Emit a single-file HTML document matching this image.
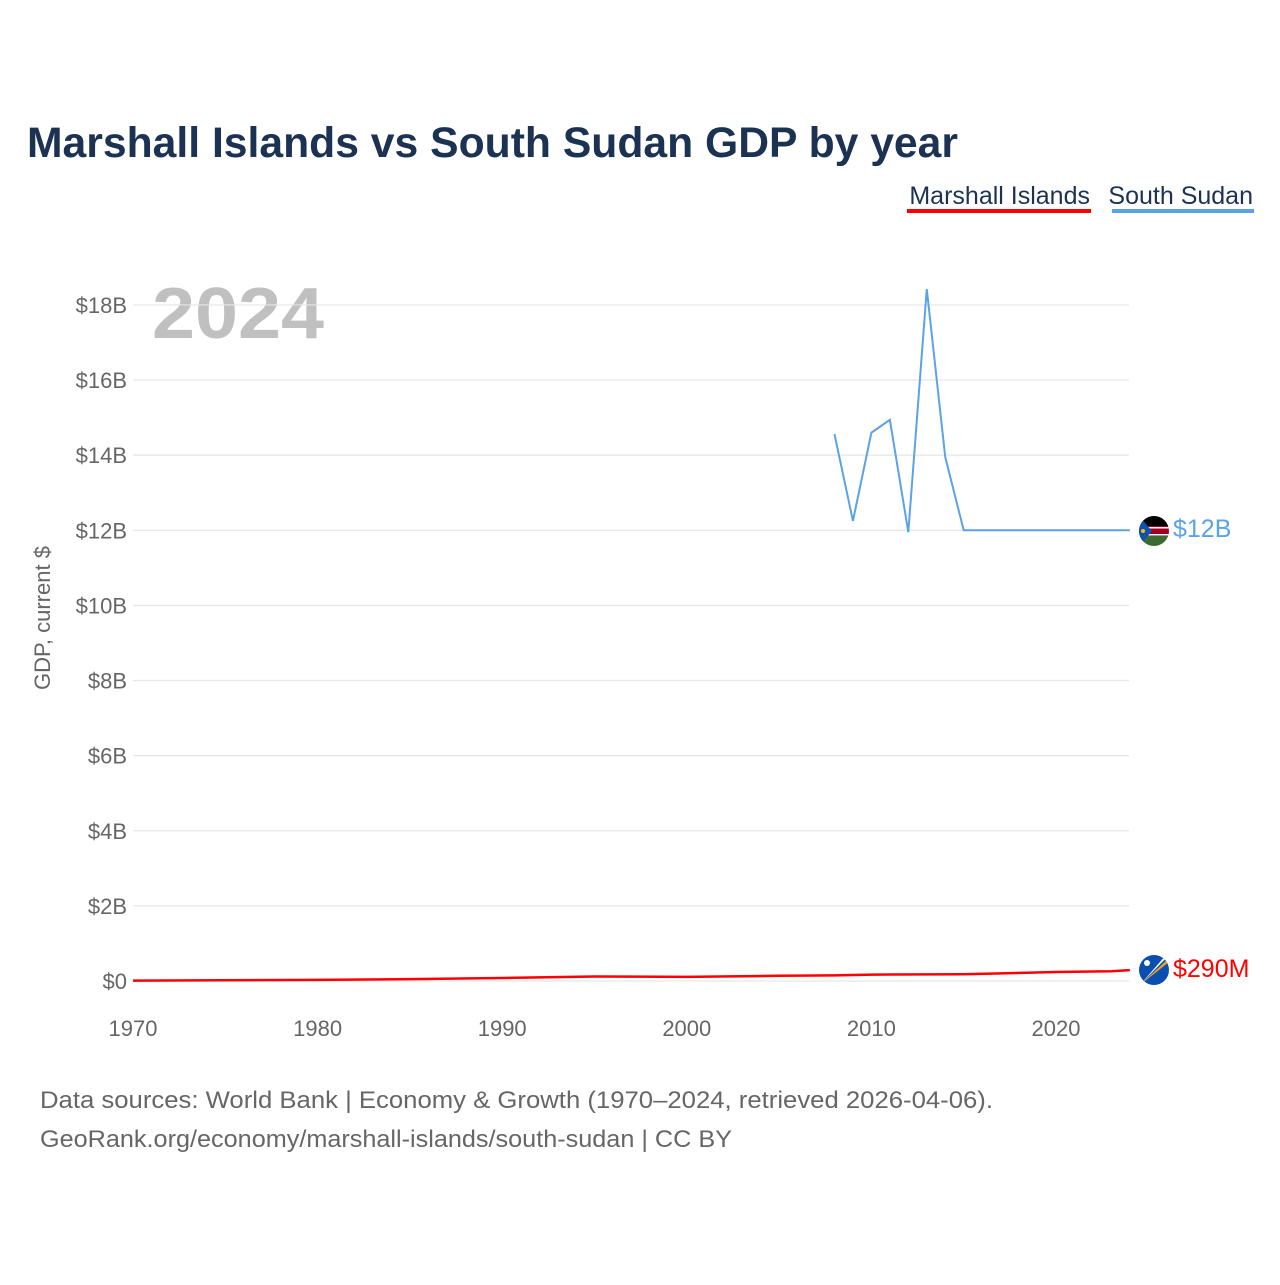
<!DOCTYPE html>
<html><head><meta charset="utf-8"><style>
body{margin:0;background:#fff;width:1280px;height:1280px;overflow:hidden;font-family:"Liberation Sans",sans-serif}
</style></head><body>
<svg width="1280" height="1280" style="font-family:'Liberation Sans',sans-serif">
<text x="27" y="157" font-size="43" font-weight="bold" fill="#1b3252" textLength="931" lengthAdjust="spacingAndGlyphs">Marshall Islands vs South Sudan GDP by year</text>
<g>
<text x="1090" y="204" text-anchor="end" font-size="25" fill="#1b3252">Marshall Islands</text>
<rect x="907" y="209" width="184" height="4" fill="#ff0000"/></g>
<g>
<text x="1253" y="204" text-anchor="end" font-size="25" fill="#1b3252">South Sudan</text>
<rect x="1112" y="209" width="142" height="4" fill="#5ba3e8"/></g>
<text x="152" y="338" font-size="72" font-weight="bold" fill="#c0c0c0" textLength="172" lengthAdjust="spacingAndGlyphs">2024</text>
<text transform="translate(50,618) rotate(-90)" text-anchor="middle" font-size="22" fill="#666">GDP, current $</text>
<g id="grid"></g><g id="xt"></g><g id="lines"></g>
<text x="40" y="1108" font-size="24" fill="#666" textLength="953" lengthAdjust="spacingAndGlyphs">Data sources: World Bank | Economy &amp; Growth (1970–2024, retrieved 2026-04-06).</text>
<text x="40" y="1147" font-size="24" fill="#666" textLength="692" lengthAdjust="spacingAndGlyphs">GeoRank.org/economy/marshall-islands/south-sudan | CC BY</text>
<g>
<clipPath id="c1"><circle cx="1154" cy="531" r="15"/></clipPath>
<g clip-path="url(#c1)"><rect x="1139" y="516" width="30" height="10" fill="#000"/><rect x="1139" y="526" width="30" height="10" fill="#a00020"/><rect x="1139" y="527" width="30" height="1.5" fill="#fff"/><rect x="1139" y="534" width="30" height="1.5" fill="#fff"/><rect x="1139" y="536" width="30" height="10" fill="#3a6b30"/><polygon points="1139,516 1152,531 1139,546" fill="#0a52b0"/><circle cx="1143" cy="531" r="2" fill="#f5c000"/></g></g>
<g>
<clipPath id="c2"><circle cx="1154" cy="970" r="15"/></clipPath>
<g clip-path="url(#c2)"><rect x="1139" y="955" width="30" height="30" fill="#0a4fb0"/><polygon points="1140,985 1169,958 1169,962" fill="#f5a020"/><polygon points="1140,985 1169,955 1166,955" fill="#fff"/><circle cx="1147" cy="963" r="3" fill="#fff"/></g></g>
<text x="1173" y="537" font-size="25" fill="#5ba3e8">$12B</text>
<text x="1173" y="977" font-size="25" fill="#ff0000">$290M</text>
</svg>
<script>
const yTicks=[0,2,4,6,8,10,12,14,16,18];
const xTicks=[1970,1980,1990,2000,2010,2020];
const ssYears=[2008,2009,2010,2011,2012,2013,2014,2015,2016,2017,2018,2019,2020,2021,2022,2023,2024];
const ssGdp=[14.56,12.25,14.6,14.94,11.95,18.42,13.95,12.0,12.0,12.0,12.0,12.0,12.0,12.0,12.0,12.0,12.0];
const miYears=[1970,1975,1980,1985,1990,1995,2000,2005,2008,2010,2015,2020,2023,2024];
const miGdp=[0.01,0.02,0.03,0.05,0.08,0.12,0.11,0.14,0.15,0.17,0.18,0.24,0.26,0.29];
const x=y=>133+(y-1970)*18.46;
const yv=v=>981-v*37.56;
const ns="http://www.w3.org/2000/svg";
const grid=document.getElementById('grid'),xt=document.getElementById('xt'),lines=document.getElementById('lines');
yTicks.forEach(t=>{
 const l=document.createElementNS(ns,'line');
 
 
 l.setAttribute('x1',133);l.setAttribute('x2',1129);l.setAttribute('y1',yv(t));l.setAttribute('y2',yv(t));
 l.setAttribute('stroke','#e6e6e6');l.setAttribute('stroke-width',1.2);grid.appendChild(l);
 const s=document.createElementNS(ns,'text');
 
 
 s.setAttribute('x',127);s.setAttribute('y',yv(t)+8);s.setAttribute('text-anchor','end');
 s.setAttribute('font-size',22);s.setAttribute('fill','#666');s.textContent='$'+t+(t?'B':'');grid.appendChild(s);
});
xTicks.forEach(t=>{
 const s=document.createElementNS(ns,'text');
 
 
 s.setAttribute('x',x(t));s.setAttribute('y',1036);s.setAttribute('text-anchor','middle');
 s.setAttribute('font-size',22);s.setAttribute('fill','#666');s.textContent=t;xt.appendChild(s);
});
function line(ys,vs,c,w,name){
 const p=document.createElementNS(ns,'polyline');
 
 
 p.setAttribute('points',ys.map((y,i)=>x(y)+','+yv(vs[i])).join(' '));
 p.setAttribute('fill','none');p.setAttribute('stroke',c);p.setAttribute('stroke-width',w);
 lines.appendChild(p);
}
line(ssYears,ssGdp,'#5ba3e8',2,'south-sudan-line');
line(miYears,miGdp,'#ff0000',2.5,'marshall-islands-line');
</script>
</body></html>
